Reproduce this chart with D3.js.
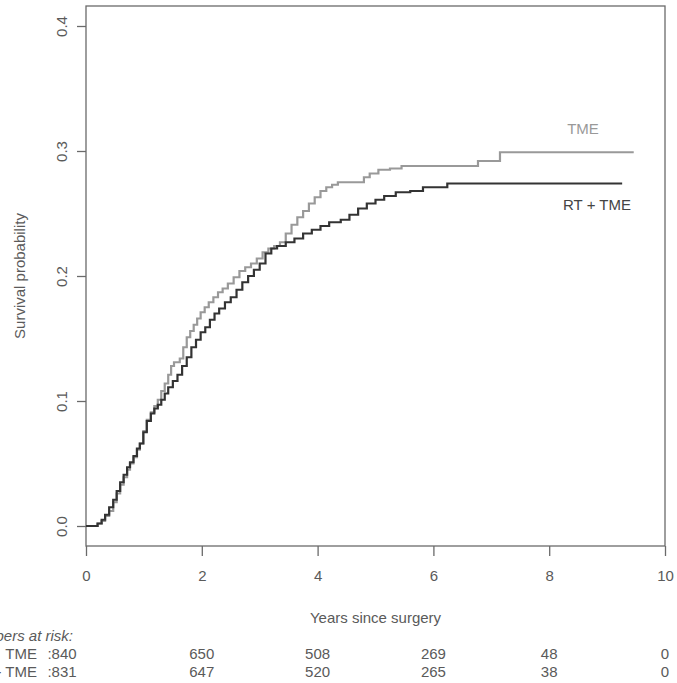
<!DOCTYPE html>
<html>
<head>
<meta charset="utf-8">
<script src="https://cdn.jsdelivr.net/npm/d3@7"></script>
<style>
  body { margin: 0; background: #fff; }
  svg text { font-family: "Liberation Sans", Arial, sans-serif; }
</style>
</head>
<body>
<div id="chart"></div>
<script>
// cumulative curves: [years, probability]
const tmeCurve = [[0,0],[0.15,0],[0.2,0.002],[0.27,0.004],[0.33,0.008],[0.4,0.012],[0.47,0.019],[0.53,0.026],
  [0.59,0.033],[0.65,0.039],[0.71,0.045],[0.76,0.05],[0.82,0.055],[0.88,0.061],[0.93,0.066],[0.99,0.076],
  [1.05,0.085],[1.12,0.091],[1.18,0.096],[1.24,0.101],[1.3,0.108],[1.36,0.114],[1.42,0.121],[1.47,0.128],
  [1.52,0.131],[1.62,0.134],[1.68,0.143],[1.74,0.151],[1.8,0.156],[1.86,0.161],[1.92,0.166],[1.98,0.171],
  [2.05,0.175],[2.12,0.179],[2.2,0.183],[2.28,0.187],[2.36,0.19],[2.45,0.194],[2.55,0.199],[2.65,0.204],
  [2.75,0.207],[2.85,0.21],[2.95,0.214],[3.05,0.219],[3.15,0.222],[3.25,0.224],[3.35,0.227],[3.45,0.234],
  [3.55,0.241],[3.65,0.247],[3.75,0.252],[3.85,0.258],[3.95,0.263],[4.05,0.268],[4.15,0.271],[4.25,0.273],
  [4.35,0.275],[4.8,0.279],[4.9,0.282],[5.05,0.285],[5.25,0.286],[5.45,0.288],[6.77,0.292],[7.15,0.299],[9.46,0.299]];

const rtCurve = [[0,0],[0.12,0],[0.2,0.002],[0.27,0.005],[0.33,0.009],[0.4,0.015],[0.47,0.021],[0.53,0.028],
  [0.59,0.035],[0.65,0.041],[0.71,0.047],[0.76,0.051],[0.82,0.056],[0.88,0.062],[0.93,0.066],[0.99,0.075],
  [1.05,0.084],[1.12,0.09],[1.18,0.094],[1.24,0.097],[1.3,0.101],[1.36,0.106],[1.42,0.111],[1.5,0.116],
  [1.58,0.121],[1.66,0.128],[1.74,0.135],[1.82,0.143],[1.9,0.149],[1.98,0.155],[2.06,0.159],[2.14,0.165],
  [2.22,0.17],[2.3,0.174],[2.4,0.179],[2.5,0.183],[2.6,0.189],[2.7,0.195],[2.8,0.2],[2.9,0.205],[3.0,0.21],
  [3.1,0.218],[3.2,0.222],[3.3,0.224],[3.45,0.227],[3.6,0.23],[3.75,0.234],[3.9,0.237],[4.05,0.24],
  [4.2,0.243],[4.4,0.245],[4.55,0.249],[4.7,0.254],[4.85,0.258],[5.0,0.261],[5.15,0.264],[5.35,0.267],
  [5.6,0.268],[5.82,0.271],[6.24,0.274],[9.26,0.274]];

const xTicks = [0, 2, 4, 6, 8, 10];
const yTicks = [0, 0.1, 0.2, 0.3, 0.4];
const riskTimes = [0, 2, 4, 6, 8, 10];
const riskTme = [840, 650, 508, 269, 48, 0];
const riskRt = [831, 647, 520, 265, 38, 0];

const W = 677, H = 683;
const mLeft = 86, mRight = 665, mTop = 6, mBottom = 546;

const svg = d3.select("#chart").append("svg")
    .attr("width", W)
    .attr("height", H);

const x = d3.scaleLinear().domain([0, 10]).range([mLeft, mRight]);
const y = d3.scaleLinear().domain([-0.016, 0.416]).range([mBottom, mTop]);

const axisCol = "#6a6a6a";
const textCol = "#5a5a5a";

// box
svg.append("rect")
    .attr("x", mLeft).attr("y", mTop)
    .attr("width", mRight - mLeft).attr("height", mBottom - mTop)
    .attr("fill", "none").attr("stroke", axisCol).attr("stroke-width", 1.3);

// x axis
const gx = svg.append("g")
    .attr("transform", `translate(0,${mBottom})`)
    .call(d3.axisBottom(x).tickValues(xTicks).tickSize(10).tickPadding(14).tickFormat(d3.format("d")));
gx.select(".domain").remove();
gx.selectAll("line").attr("stroke", axisCol).attr("stroke-width", 1.3);
gx.selectAll("text").attr("fill", textCol).attr("font-size", 15);

// y axis
const gy = svg.append("g")
    .attr("transform", `translate(${mLeft},0)`)
    .call(d3.axisLeft(y).tickValues(yTicks).tickSize(9).tickFormat(d3.format(".1f")));
gy.select(".domain").remove();
gy.selectAll("line").attr("stroke", axisCol).attr("stroke-width", 1.3);
gy.selectAll("text")
    .attr("fill", textCol).attr("font-size", 15)
    .attr("text-anchor", "middle")
    .attr("dy", null)
    .attr("transform", "translate(-19,0) rotate(-90)")
    .attr("x", 0).attr("y", 0);

// axis titles
svg.append("text")
    .attr("x", (mLeft + mRight) / 2).attr("y", 623)
    .attr("text-anchor", "middle")
    .attr("fill", textCol).attr("font-size", 15)
    .text("Years since surgery");

svg.append("text")
    .attr("transform", `translate(25,${(mTop + mBottom) / 2}) rotate(-90)`)
    .attr("text-anchor", "middle")
    .attr("fill", textCol).attr("font-size", 15)
    .text("Survival probability");

// curves
const line = d3.line()
    .x(d => x(d[0]))
    .y(d => y(d[1]))
    .curve(d3.curveStepAfter);

svg.append("path")
    .datum(tmeCurve)
    .attr("d", line)
    .attr("fill", "none").attr("stroke", "#999").attr("stroke-width", 2.2);

svg.append("path")
    .datum(rtCurve)
    .attr("d", line)
    .attr("fill", "none").attr("stroke", "#333").attr("stroke-width", 2.2);

svg.append("text")
    .attr("x", 583).attr("y", 134)
    .attr("text-anchor", "middle")
    .attr("fill", "#999").attr("font-size", 15)
    .text("TME");

svg.append("text")
    .attr("x", 597).attr("y", 210)
    .attr("text-anchor", "middle")
    .attr("fill", "#444").attr("font-size", 15)
    .text("RT + TME");

// numbers at risk
svg.append("text")
    .attr("x", 73).attr("y", 641)
    .attr("text-anchor", "end")
    .attr("font-style", "italic")
    .attr("fill", textCol).attr("font-size", 15)
    .text("Numbers at risk:");

const rows = [["TME", riskTme, 659], ["RT + TME", riskRt, 677]];
rows.forEach(([name, vals, yy]) => {
  svg.append("text")
      .attr("x", 37).attr("y", yy)
      .attr("text-anchor", "end")
      .attr("fill", textCol).attr("font-size", 15)
      .text(name);
  vals.forEach((v, i) => {
    svg.append("text")
        .attr("x", i === 0 ? 62 : x(riskTimes[i]))
        .attr("y", yy)
        .attr("text-anchor", "middle")
        .attr("fill", textCol).attr("font-size", 15)
        .text(i === 0 ? ":" + v : v);
  });
});
</script>
</body>
</html>
